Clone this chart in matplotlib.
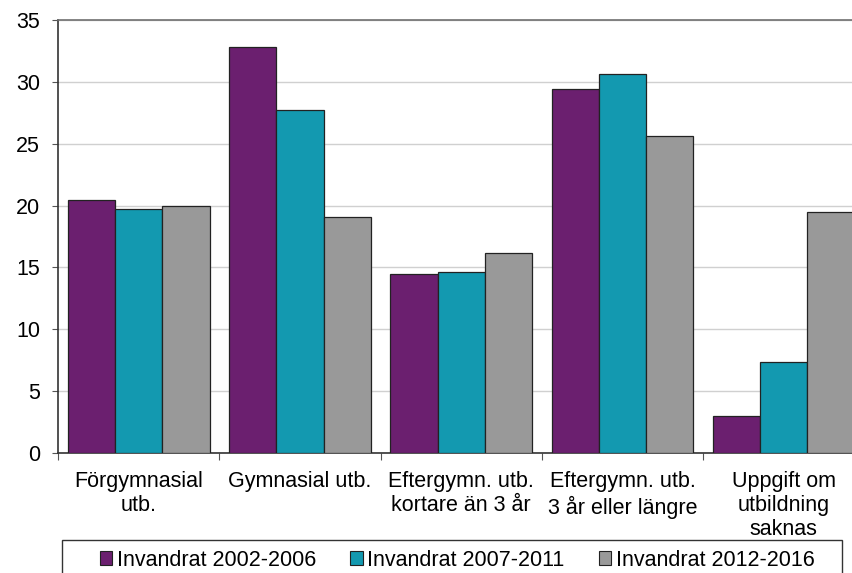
import matplotlib
matplotlib.use('Agg')
import matplotlib.pyplot as plt
from matplotlib.patches import Rectangle
import numpy as np

plt.rcParams.update({'font.family': ['Liberation Sans', 'DejaVu Sans'], 'font.size': 15.5})

categories = ['Förgymnasial\nutb.', 'Gymnasial utb.', 'Eftergymn. utb.\nkortare än 3 år',
              'Eftergymn. utb.\n3 år eller längre', 'Uppgift om\nutbildning\nsaknas']
series = ['Invandrat 2002-2006', 'Invandrat 2007-2011', 'Invandrat 2012-2016']
v_2002 = [20.45, 32.8, 14.45, 29.4, 3.0]
v_2007 = [19.75, 27.7, 14.6, 30.65, 7.35]
v_2012 = [19.95, 19.05, 16.15, 25.6, 19.45]
colors = ['#6B1F6F', '#1399B0', '#999999']

fig = plt.figure(figsize=(8.52, 5.73), dpi=100)
ax = fig.add_axes([58 / 852, 1 - 453 / 573, 806.5 / 852, 433 / 573])

x = np.arange(len(categories))
w = 0.293
for i, (vals, c, lab) in enumerate(zip([v_2002, v_2007, v_2012], colors, series)):
    ax.bar(x + (i - 1) * w, vals, w, color=c, edgecolor='#222222', linewidth=0.9,
           label=lab, zorder=3)

ax.set_xlim(-0.5, len(categories) - 0.5)
ax.set_ylim(0, 35)
ax.set_yticks(range(0, 36, 5))
ax.yaxis.grid(True, color='#D0D0D0', linewidth=1.0, zorder=0)
ax.set_xticks(np.arange(-0.5, len(categories), 1.0))
ax.set_xticklabels([])
ax.set_xticks(x, minor=True)
ax.set_xticklabels(categories, minor=True, linespacing=1.2)
ax.tick_params(axis='x', which='major', direction='out', length=5, color='#555555')
ax.tick_params(axis='x', which='minor', length=0, pad=13)
ax.tick_params(axis='y', direction='out', length=4.3, color='#555555', pad=8.5)
for s in ['left', 'bottom']:
    ax.spines[s].set_color('#333333')
    ax.spines[s].set_linewidth(1.2)
ax.spines['top'].set_color('#707070')
ax.spines['top'].set_linewidth(1.2)
ax.spines['right'].set_visible(False)

handles, labels = ax.get_legend_handles_labels()
leg = fig.legend(handles, labels, loc='center', bbox_to_anchor=(457 / 852, 1 - 560 / 573),
                 ncol=3, frameon=False, handlelength=0.58, handleheight=0.58,
                 handletextpad=0.2, borderaxespad=0, columnspacing=1.6, borderpad=0)
for h in leg.legend_handles:
    h.set_edgecolor('#222222')
    h.set_linewidth(0.8)
fig.add_artist(Rectangle((62 / 852, -0.05), 780 / 852, 33 / 573 + 0.05,
                         transform=fig.transFigure, fill=False,
                         edgecolor='#333333', linewidth=1.0))

fig.savefig('out.png', dpi=100)
